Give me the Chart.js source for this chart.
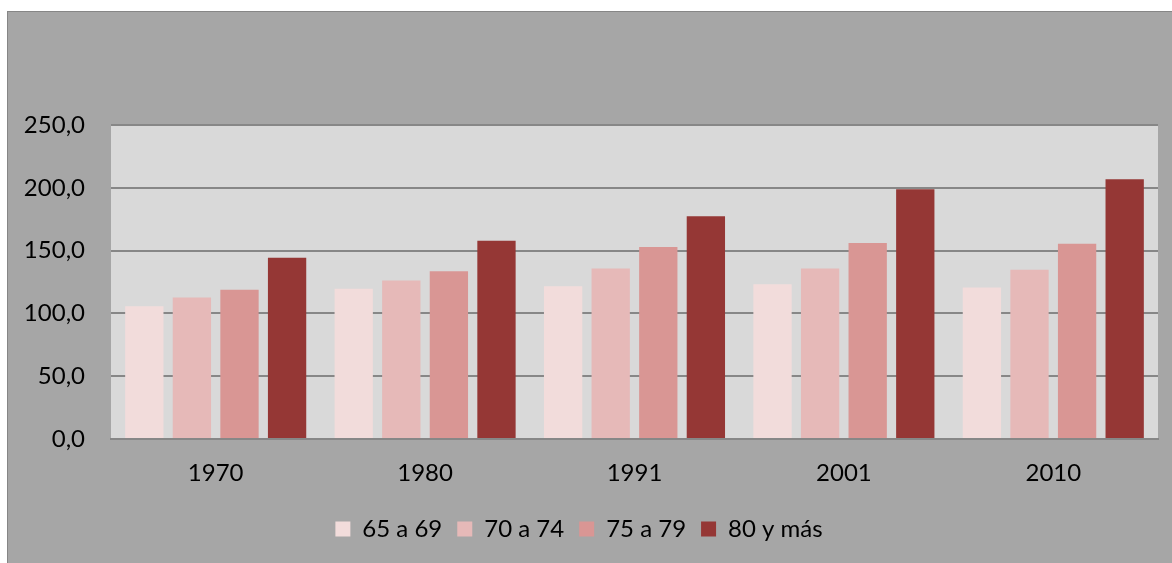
<!DOCTYPE html>
<html>
<head>
<meta charset="utf-8">
<script src="https://cdn.jsdelivr.net/npm/chart.js@4/dist/chart.umd.min.js"></script>
<style>
  html, body { margin: 0; padding: 0; background: #ffffff; }
  #wrap { position: relative; width: 1172px; height: 563px; overflow: hidden; }
  #frame {
    position: absolute; left: 7px; top: 11px; right: -2px; bottom: -2px;
    background: #a6a6a6; border-left: 1px solid #868686; border-top: 1px solid #868686;
  }
  #c { position: absolute; left: 0; top: 0; }
</style>
</head>
<body>
<div id="wrap">
  <div id="frame"></div>
  <canvas id="c" width="1172" height="563"></canvas>
</div>
<script>
// Census years and age groups
const years = ['1970', '1980', '1991', '2001', '2010'];
const groups = ['65 a 69', '70 a 74', '75 a 79', '80 y más'];

// Index values per age group, one per census year
const age65to69 = [105.7, 119.6, 121.7, 123.3, 120.6];
const age70to74 = [112.6, 126.2, 135.8, 135.8, 134.7];
const age75to79 = [118.8, 133.6, 152.8, 156.0, 155.5];
const age80plus = [144.3, 157.9, 177.3, 198.9, 206.9];

// Value axis
const yMin = 0, yMax = 250, yStep = 50;

const series = [age65to69, age70to74, age75to79, age80plus];
const colors = ['#f2dcdb', '#e6b9b8', '#d99694', '#953735'];

const FONT = { family: 'Lato, "Open Sans", sans-serif', size: 24 };

// Light grey panel behind the plotting area
const plotBackground = {
  id: 'plotBackground',
  beforeDraw(chart) {
    const { ctx, chartArea: a } = chart;
    ctx.save();
    ctx.fillStyle = '#d9d9d9';
    ctx.fillRect(a.left, a.top, a.right - a.left, a.bottom - a.top);
    ctx.restore();
  }
};

new Chart(document.getElementById('c'), {
  type: 'bar',
  data: {
    labels: years,
    datasets: groups.map((g, i) => ({
      label: g,
      data: series[i],
      backgroundColor: colors[i],
      borderWidth: 0,
      categoryPercentage: 0.909,
      barPercentage: 0.805
    }))
  },
  options: {
    responsive: false,
    animation: false,
    devicePixelRatio: 1,
    layout: { padding: { top: 125, right: 14, bottom: 12, left: 0 } },
    plugins: {
      tooltip: { enabled: false },
      legend: {
        position: 'bottom',
        labels: {
          color: '#000000',
          font: FONT,
          boxWidth: 15,
          boxHeight: 15,
          padding: 15
        }
      }
    },
    scales: {
      x: {
        grid: { display: false, drawTicks: false },
        border: { display: true, color: '#878787', width: 2 },
        ticks: { color: '#000000', font: FONT, padding: 20 },
        afterFit(s) { s.height = 63; }
      },
      y: {
        min: yMin,
        max: yMax,
        grid: { color: '#878787', lineWidth: 2, drawTicks: false },
        border: { display: false },
        ticks: {
          stepSize: yStep,
          color: '#000000',
          font: FONT,
          padding: 26,
          callback: v => v.toFixed(1).replace('.', ',')
        },
        afterFit(s) { s.width = 111; }
      }
    }
  },
  plugins: [plotBackground]
});
</script>
</body>
</html>
